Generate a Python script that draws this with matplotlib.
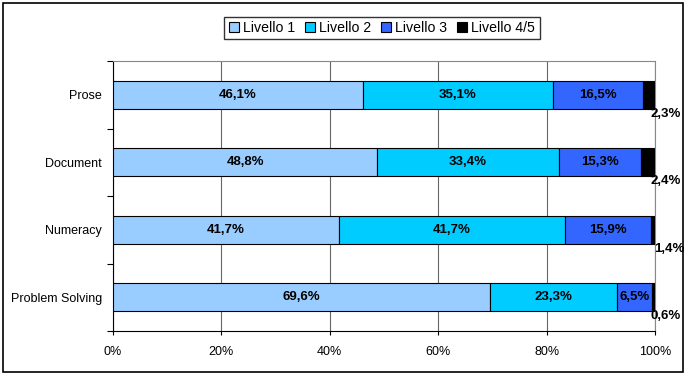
import matplotlib
matplotlib.use("Agg")
import matplotlib.pyplot as plt
from matplotlib.patches import Rectangle
from matplotlib.ticker import FixedLocator, FuncFormatter
import numpy as np

categories = ["Prose", "Document", "Numeracy", "Problem Solving"]
series_names = ["Livello 1", "Livello 2", "Livello 3", "Livello 4/5"]
livello1 = [46.1, 48.8, 41.7, 69.6]
livello2 = [35.1, 33.4, 41.7, 23.3]
livello3 = [16.5, 15.3, 15.9, 6.5]
livello45 = [2.3, 2.4, 1.4, 0.6]
colors = ["#99CCFF", "#00CCFF", "#3366FF", "#000000"]
x_ticks = [0, 20, 40, 60, 80, 100]

plt.rcParams['font.family'] = ['Liberation Sans', 'DejaVu Sans']

fig = plt.figure(figsize=(6.92, 3.81), dpi=100)
ax = fig.add_axes([113/692, 1-331/381, (655-113)/692, (331-61)/381])

y = np.arange(len(categories))
series = [livello1, livello2, livello3, livello45]
left = np.zeros(len(categories))
for i, (vals, name, col) in enumerate(zip(series, series_names, colors)):
    vals = np.array(vals)
    ax.barh(y, vals, left=left, height=0.42, color=col, edgecolor='black',
            linewidth=0.8, label=name, zorder=3)
    for j in range(len(categories)):
        if i < 3:
            ax.text(left[j] + vals[j] / 2, y[j], f"{vals[j]:.1f}%".replace('.', ','),
                    ha='center', va='center', fontsize=9.5, fontweight='bold', zorder=4)
        else:
            ax.text(left[j] + vals[j] - 0.8, y[j] + 0.28,
                    f"{vals[j]:.1f}%".replace('.', ','),
                    ha='left', va='center', fontsize=9.5, fontweight='bold', zorder=4)
    left += vals

ax.set_xlim(0, 100)
ax.set_ylim(len(categories) - 0.5, -0.5)
ax.set_xticks(x_ticks)
ax.xaxis.set_major_formatter(FuncFormatter(lambda v, p: f"{int(v)}%"))
ax.set_yticks(y)
ax.set_yticklabels(categories, fontsize=9)
ax.yaxis.set_minor_locator(FixedLocator(np.arange(-0.5, len(categories), 1)))
ax.tick_params(axis='y', which='major', length=0, pad=8)
ax.tick_params(axis='y', which='minor', length=4, width=0.8, direction='out')
ax.tick_params(axis='x', which='major', length=3, width=0.8, direction='out', labelsize=9, pad=8)

ax.grid(axis='x', color='#666666', linewidth=0.8, zorder=0)
for s in ['top', 'right']:
    ax.spines[s].set_color('#888888')
    ax.spines[s].set_linewidth(0.8)
for s in ['left', 'bottom']:
    ax.spines[s].set_color('black')
    ax.spines[s].set_linewidth(0.8)

leg = fig.legend(loc='center', bbox_to_anchor=(382/692, 1-28/381), ncol=4,
                 fontsize=10.2, frameon=True, fancybox=False, edgecolor='black',
                 handlelength=0.7, handleheight=0.7, handletextpad=0.3,
                 columnspacing=0.7, borderpad=0.3, borderaxespad=0)
leg.get_frame().set_linewidth(1.0)

fig.patches.append(Rectangle((3/692, 1-372/381), (683-3)/692, (372-3)/381,
                             transform=fig.transFigure, fill=False,
                             edgecolor='black', linewidth=1.2))

fig.savefig("out.png", dpi=100)
